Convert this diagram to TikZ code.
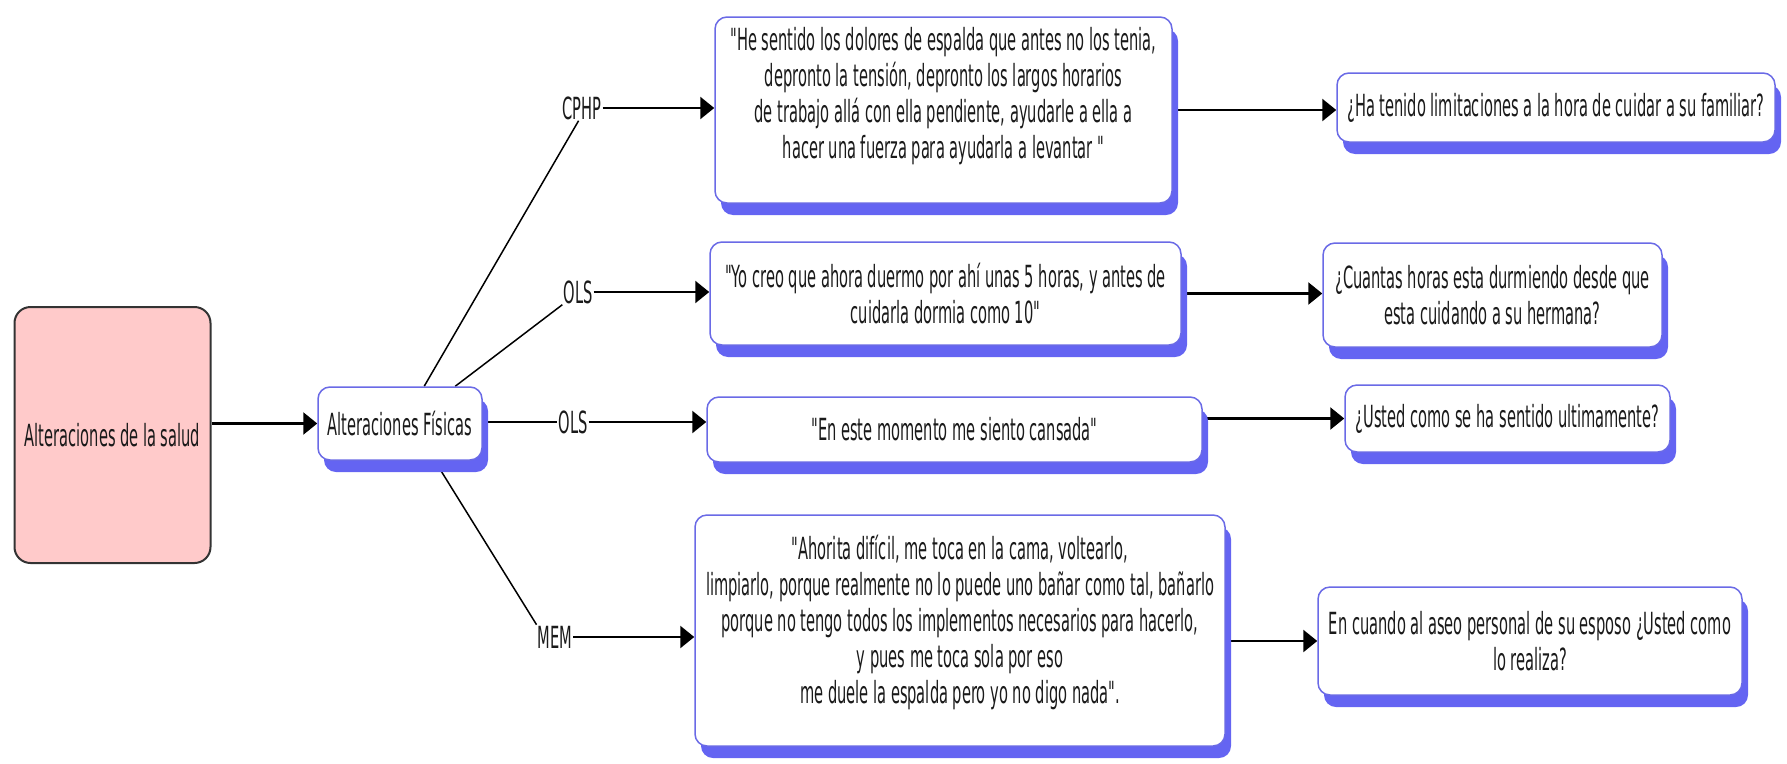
\documentclass[tikz,border=0pt]{standalone}
\usepackage{fontspec}
\setmainfont{DejaVu Sans}[FakeStretch=0.48, Ligatures=TeXOff]
\usetikzlibrary{arrows.meta,shadows}
\definecolor{boxline}{HTML}{6A6AE6}
\definecolor{boxshade}{HTML}{6464F2}
\definecolor{rootfill}{HTML}{FFCACA}
\definecolor{inkgray}{HTML}{1A1A1A}
\pgfdeclarelayer{wires}
\pgfsetlayers{wires,main}

\begin{document}
\begin{tikzpicture}[x=1pt,y=-1pt,
  every node/.style={font=\fontsize{30.5}{36}\selectfont, text=inkgray},
  quote/.style={draw=boxline, line width=1.5pt, fill=white, rounded corners=12pt,
    align=center, inner sep=0pt,
    drop shadow={shadow xshift=6pt, shadow yshift=-12pt, fill=boxshade, opacity=1}},
  root/.style={draw=black!80, line width=2pt, fill=rootfill, rounded corners=16pt,
    inner sep=0pt, align=center},
  tag/.style={inner sep=1pt},
  link/.style={line width=2.5pt, -{Triangle[length=14pt,width=22pt]}},
  branch/.style={line width=1.5pt},
]
\useasboundingbox (0,0) rectangle (1787,763);

% root and first level
\node[root, minimum width=196pt, minimum height=256pt] (root) at (112.5,435) {Alteraciones de la salud};
\node[quote, minimum width=164pt, minimum height=73pt] (fis) at (400,423.5) {Alteraciones Físicas};

% participant codes
\node[tag] (cphp) at (582,108) {CPHP};
\node[tag] (ols1) at (578,292) {OLS};
\node[tag] (ols2) at (573,422) {OLS};
\node[tag] (mem)  at (555,637) {MEM};

% testimonies
\node[quote, minimum width=457pt, minimum height=186pt, text depth=35pt] (qcphp) at (943.5,110)
  {"He sentido los dolores de espalda que antes no los tenia,\\
   depronto la tensión, depronto los largos horarios\\
   de trabajo allá con ella pendiente, ayudarle a ella a\\
   hacer una fuerza para ayudarla a levantar "};
\node[quote, minimum width=471pt, minimum height=103pt] (qols1) at (945.5,293.5)
  {"Yo creo que ahora duermo por ahí unas 5 horas, y antes de\\
   cuidarla dormia como 10"};
\node[quote, minimum width=495pt, minimum height=65pt] (qols2) at (954.5,429.5)
  {"En este momento me siento cansada"};
\node[quote, minimum width=530pt, minimum height=231pt, text depth=23pt] (qmem) at (960,630.5)
  {"Ahorita difícil, me toca en la cama, voltearlo,\\
   limpiarlo, porque realmente no lo puede uno bañar como tal, bañarlo\\
   porque no tengo todos los implementos necesarios para hacerlo,\\
   y pues me toca sola por eso\\
   me duele la espalda pero yo no digo nada".};

% interview questions
\node[quote, minimum width=438pt, minimum height=69pt] (p1) at (1556,107.5)
  {¿Ha tenido limitaciones a la hora de cuidar a su familiar?};
\node[quote, minimum width=339pt, minimum height=104pt] (p2) at (1492.5,295)
  {¿Cuantas horas esta durmiendo desde que\\ esta cuidando a su hermana?};
\node[quote, minimum width=325pt, minimum height=67pt] (p3) at (1507.5,418.5)
  {¿Usted como se ha sentido ultimamente?};
\node[quote, minimum width=424pt, minimum height=108pt] (p4) at (1530,641)
  {En cuando al aseo personal de su esposo ¿Usted como\\ lo realiza?};

% connectors, kept beneath the boxes
\begin{pgfonlayer}{wires}
  \draw[link] (root.east |- fis.west) -- (fis.west);
  \draw[branch] (fis.57) -- (cphp.255);
  \draw[branch] (fis.34) -- (ols1.south west);
  \draw[branch] (fis.east |- ols2.west) -- (ols2.west);
  \draw[branch] (fis.-47) -- (mem.north west);

  \draw[link] (cphp.east) -- (cphp.east -| qcphp.west);
  \draw[link] (ols1.east) -- (ols1.east -| qols1.west);
  \draw[link] (ols2.east) -- (ols2.east -| qols2.west);
  \draw[link] (mem.east)  -- (mem.east -| qmem.west);

  \draw[link] (qcphp.east) -- (qcphp.east -| p1.west);
  \draw[link] (qols1.east) -- (qols1.east -| p2.west);
  \draw[link] (qols2.east |- p3.west) -- (p3.west);
  \draw[link] (qmem.east |- p4.west) -- (p4.west);
\end{pgfonlayer}
\end{tikzpicture}
\end{document}
